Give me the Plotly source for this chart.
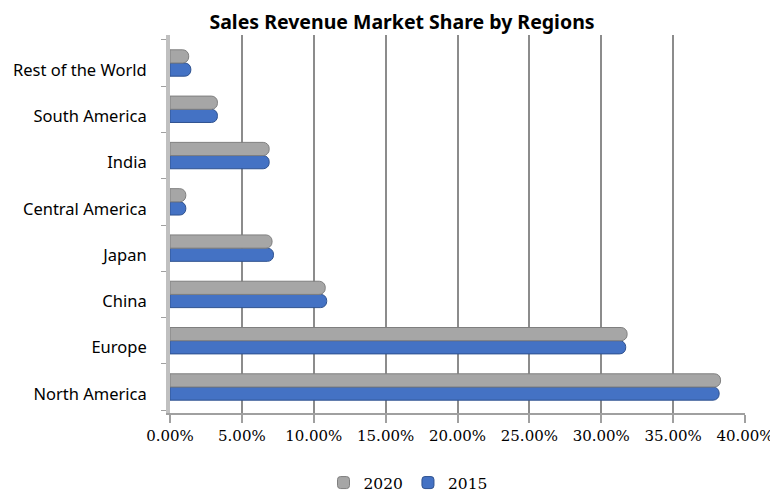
import plotly.graph_objects as go

regions = ["North America", "Europe", "China", "Japan", "Central America",
           "India", "South America", "Rest of the World"]
share_2015 = [0.382, 0.317, 0.109, 0.072, 0.011, 0.069, 0.033, 0.0145]
share_2020 = [0.383, 0.318, 0.108, 0.071, 0.011, 0.069, 0.033, 0.013]
x_ticks = [0, 0.05, 0.10, 0.15, 0.20, 0.25, 0.30, 0.35, 0.40]

W, H = 770, 489  # page body has an 8px margin

fig = go.Figure()
fig.add_trace(go.Bar(
    y=regions, x=share_2015, orientation="h", name="2015",
    marker=dict(color="#4472c4", line=dict(color="#2f528f", width=1)),
))
fig.add_trace(go.Bar(
    y=regions, x=share_2020, orientation="h", name="2020",
    marker=dict(color="#a6a6a6", line=dict(color="#7f7f7f", width=1)),
))

fig.update_layout(
    width=W, height=H,
    paper_bgcolor="white", plot_bgcolor="white",
    margin=dict(l=162, r=33, t=27, b=84),
    barmode="group", bargap=0.43, bargroupgap=0.0,
    barcornerradius=6,
    title=dict(text="<b>Sales Revenue Market Share by Regions</b>",
               x=394 / W, xanchor="center", xref="container",
               y=1 - 14 / H, yanchor="middle", yref="container",
               font=dict(family="Noto Sans", size=19.5, color="black")),
    xaxis=dict(range=[0, 0.40], tickvals=x_ticks, tickformat=".2%",
               automargin=False,
               showgrid=True, gridcolor="#8c8c8c", gridwidth=2,
               showline=True, linecolor="#a0a0a0", linewidth=2,
               ticks="outside", tickcolor="#a0a0a0", ticklen=8, tickwidth=2,
               tickfont=dict(family="DejaVu Serif", size=15, color="black"),
               zeroline=False),
    yaxis=dict(categoryorder="array", categoryarray=regions,
               automargin=False, tickson="boundaries",
               showline=True, linecolor="#c0c0c0", linewidth=4,
               ticks="outside", tickcolor="#a0a0a0", ticklen=5,
               tickfont=dict(family="Noto Sans", size=16.5, color="black"),
               ticklabelshift=7, ticklabelstandoff=16,
               range=[-0.562, 7.605]),
    legend=dict(orientation="h", traceorder="reversed",
                x=400 / W, xanchor="center", xref="container",
                y=14 / H, yanchor="middle", yref="container",
                font=dict(family="DejaVu Serif", size=15.5, color="black"),
                itemwidth=30),
    showlegend=True,
)

fig.write_html("out.html")
